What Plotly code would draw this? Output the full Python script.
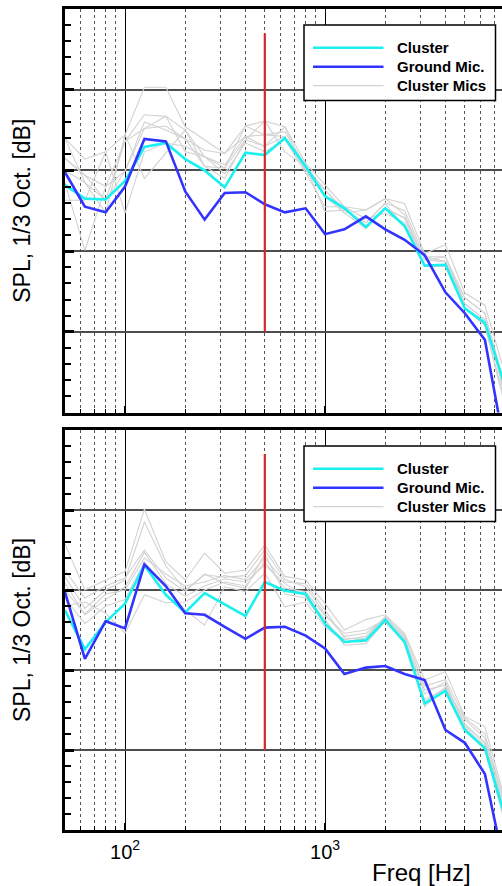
import plotly.graph_objects as go
import math

# ---------------- data ----------------
freqs = [50, 63, 80, 100, 125, 160, 200, 250, 315, 400, 500, 630, 800,
         1000, 1250, 1600, 2000, 2500, 3150, 4000, 5000, 6300, 8000]

# top panel
top_cluster = [28.2, 26.5, 26.4, 28.7, 32.9, 33.4, 31.4, 30.0, 27.9, 32.2, 31.9, 34.0, 30.5,
               26.8, 25.3, 23.0, 25.3, 23.1, 18.2, 18.3, 12.9, 11.1, 3.0]
top_ground = [29.8, 25.5, 24.8, 28.0, 33.9, 33.6, 27.4, 23.9, 27.2, 27.3, 25.8, 24.8, 25.3,
              22.1, 22.7, 24.3, 22.7, 21.4, 19.5, 14.9, 12.3, 9.0, -5.0]
top_mic1 = [34.0, 31.4, 32.3, 34.4, 40.3, 40.3, 35.4, 33.8, 32.1, 35.5, 36.1, 35.4, 30.9,
            28.2, 25.5, 25.1, 26.5, 25.9, 19.7, 20.8, 14.8, 13.3, 4.5]
top_mic2 = [31.5, 29.4, 26.3, 33.6, 36.9, 36.7, 35.0, 31.7, 30.7, 34.2, 34.4, 34.8, 30.5,
            27.6, 25.1, 23.5, 26.0, 25.0, 19.3, 19.3, 14.2, 12.3, 3.0]
top_mic3 = [28.5, 20.1, 28.0, 29.9, 35.2, 35.5, 33.9, 30.5, 30.3, 33.8, 33.0, 34.2, 30.1,
            26.8, 24.7, 22.8, 25.3, 24.1, 18.9, 18.7, 13.5, 11.5, 2.0]
top_mic4 = [26.3, 26.3, 32.3, 24.7, 32.3, 33.4, 33.0, 31.7, 29.6, 33.4, 32.3, 33.8, 29.7,
            25.5, 25.5, 24.0, 24.7, 23.5, 18.1, 18.1, 12.9, 10.8, 0.5]
top_mic5 = [30.0, 28.5, 24.7, 34.4, 29.0, 32.1, 35.0, 30.5, 29.0, 33.8, 36.1, 32.3, 30.5,
            24.9, 25.1, 23.5, 25.9, 23.0, 19.3, 18.7, 14.2, 12.3, 1.5]
top_mic6 = [34.0, 28.5, 26.3, 29.9, 36.0, 35.0, 33.9, 32.5, 32.1, 34.2, 33.0, 35.4, 29.7,
            27.6, 24.7, 25.1, 26.5, 24.5, 18.9, 19.3, 13.5, 11.5, 2.5]
top_mic7 = [31.5, 29.4, 28.0, 33.6, 35.2, 36.7, 32.3, 31.7, 30.3, 35.5, 34.4, 34.2, 30.1,
            26.8, 25.5, 22.8, 25.3, 24.1, 18.1, 18.1, 12.9, 10.8, 1.0]

# bottom panel
bot_cluster = [27.5, 22.6, 26.0, 28.3, 33.1, 29.4, 27.2, 29.6, 28.2, 26.75, 31.0, 29.9, 29.5,
               25.8, 23.5, 23.7, 26.25, 23.5, 15.8, 17.4, 12.5, 10.2, 1.4]
bot_ground = [29.8, 21.4, 26.1, 25.2, 33.2, 30.5, 27.1, 26.9, 25.4, 23.9, 25.3, 25.4, 24.3,
              22.7, 19.5, 20.3, 20.5, 19.5, 18.75, 12.5, 10.9, 7.0, -5.3]
bot_mic1 = [35.8, 30.0, 31.25, 32.3, 40.1, 33.5, 31.25, 34.6, 32.1, 32.5, 35.6, 31.7, 31.25,
            28.3, 25.0, 26.3, 26.9, 24.6, 18.75, 19.8, 14.2, 12.9, 3.5]
bot_mic2 = [31.7, 27.7, 30.0, 31.25, 38.5, 33.0, 30.0, 31.9, 31.6, 31.8, 35.0, 31.3, 30.4,
            27.0, 24.2, 24.6, 26.5, 23.8, 17.5, 18.1, 13.3, 10.8, 1.5]
bot_mic3 = [30.9, 26.9, 28.8, 30.4, 34.7, 30.8, 29.2, 30.5, 31.4, 31.0, 33.1, 30.8, 29.2,
            26.3, 23.1, 23.3, 26.1, 23.3, 16.3, 17.6, 12.5, 10.2, 0.5]
bot_mic4 = [29.0, 25.8, 28.0, 28.8, 33.5, 30.2, 27.5, 25.6, 30.4, 29.8, 32.1, 27.9, 28.5,
            25.4, 23.5, 24.0, 26.7, 24.2, 15.4, 17.9, 13.8, 11.5, 2.5]
bot_mic5 = [28.0, 28.5, 27.1, 24.6, 29.4, 28.4, 28.5, 30.0, 31.0, 30.5, 33.5, 30.2, 29.8,
            26.8, 24.6, 25.0, 26.3, 24.0, 17.0, 18.5, 13.0, 11.0, 2.0]
bot_mic6 = [30.0, 27.0, 29.5, 30.0, 34.0, 32.0, 30.5, 31.0, 31.8, 31.3, 34.0, 31.0, 30.8,
            27.5, 24.0, 23.8, 26.0, 23.5, 16.0, 17.8, 12.8, 10.5, 1.0]
bot_mic7 = [32.5, 29.0, 30.5, 31.5, 35.0, 31.5, 29.8, 32.0, 30.8, 30.2, 34.5, 29.5, 29.0,
            25.8, 23.8, 24.2, 26.6, 24.4, 18.0, 18.8, 14.0, 12.0, 3.0]

top_mics = [top_mic1, top_mic2, top_mic3, top_mic4, top_mic5, top_mic6, top_mic7]
bot_mics = [bot_mic1, bot_mic2, bot_mic3, bot_mic4, bot_mic5, bot_mic6, bot_mic7]

marker_freq = [500, 500]
marker_level = [10, 47]

x_tickvals = [100, 1000]
x_ticktext = ["10<sup>2</sup>", "10<sup>3</sup>"]
x_minor = [60, 70, 80, 90, 200, 300, 400, 500, 600, 700, 800, 900,
           2000, 3000, 4000, 5000, 6000, 7000, 8000, 9000]
legend_names = ["Cluster", "Ground Mic.", "Cluster Mics"]

# ---------------- style ----------------
W, H = 502, 886
ML, MR, MT, MB = 65, 0, 9, 56
CYAN = "#1af0f0"
BLUE = "#3333ff"
GRAY = "#d2d2d2"
RED = "#d22a2a"
FONT = "Arial, Liberation Sans, sans-serif"

def px2x(px):
    return (px - ML) / (W - ML - MR)

def px2y(py):
    return (H - MB - py) / (H - MB - MT)

top_dom = [px2y(412.5), 1.0]
bot_dom = [0.0, px2y(430)]

fig = go.Figure()

panels = [("x", "y", top_mics, top_cluster, top_ground),
          ("x2", "y2", bot_mics, bot_cluster, bot_ground)]
for xa, ya, mics, clus, gnd in panels:
    for m in mics:
        fig.add_trace(go.Scatter(x=freqs, y=m, mode="lines", xaxis=xa, yaxis=ya,
                                 line=dict(color=GRAY, width=1.1), showlegend=False,
                                 name=legend_names[2]))
    fig.add_trace(go.Scatter(x=freqs, y=clus, mode="lines", xaxis=xa, yaxis=ya,
                             line=dict(color=CYAN, width=2.6), showlegend=False,
                             name=legend_names[0]))
    fig.add_trace(go.Scatter(x=freqs, y=gnd, mode="lines", xaxis=xa, yaxis=ya,
                             line=dict(color=BLUE, width=2.6), showlegend=False,
                             name=legend_names[1]))
    fig.add_trace(go.Scatter(x=marker_freq, y=marker_level, mode="lines", xaxis=xa, yaxis=ya,
                             line=dict(color=RED, width=2.2), showlegend=False,
                             hoverinfo="skip"))

xrange = [math.log10(50.1), math.log10(50.1) + (W - ML - MR) / 200.0]

def xaxis_cfg(anchor, labels):
    return dict(type="log", range=xrange, anchor=anchor,
                tickvals=x_tickvals, ticktext=x_ticktext, showticklabels=labels,
                tickfont=dict(family=FONT, size=20, color="black"),
                ticks="inside", ticklen=7, tickwidth=2, tickcolor="black",
                showgrid=True, gridcolor="black", gridwidth=1,
                showline=True, linecolor="black", linewidth=2.5, mirror=True,
                zeroline=False, ticklabelstandoff=2,
                minor=dict(tickmode="array", tickvals=x_minor, ticks="inside", ticklen=4,
                           tickwidth=1, tickcolor="black", showgrid=True,
                           gridcolor="#555555", gridwidth=1, griddash="dot"))

def yaxis_cfg(anchor, dom):
    return dict(range=[0, 50], domain=dom, anchor=anchor, tick0=0, dtick=10,
                showticklabels=False, ticks="inside", ticklen=9, tickwidth=2.5,
                tickcolor="black", showgrid=True, gridcolor="#4d4d4d", gridwidth=1.6,
                showline=True, linecolor="black", linewidth=3, mirror=False,
                zeroline=False,
                title=dict(text="SPL, 1/3 Oct. [dB]", standoff=25,
                           font=dict(family=FONT, size=23, color="black")),
                minor=dict(dtick=2, ticks="inside", ticklen=6, tickwidth=1.5,
                           tickcolor="black", showgrid=False))

fig.update_layout(
    width=W, height=H,
    margin=dict(l=ML, r=MR, t=MT, b=MB),
    paper_bgcolor="white", plot_bgcolor="white",
    font=dict(family=FONT, color="black"),
    showlegend=False,
    xaxis=xaxis_cfg("y", False),
    yaxis=yaxis_cfg("x", top_dom),
    xaxis2=xaxis_cfg("y2", True),
    yaxis2=yaxis_cfg("x2", bot_dom),
)

# manual legends (one per panel)
shapes = []
annos = []
legend_styles = [(CYAN, 2.6), (BLUE, 2.6), (GRAY, 1.2)]
for T in (9, 430):
    shapes.append(dict(type="rect", xref="paper", yref="paper",
                       x0=px2x(304), x1=px2x(495.5), y0=px2y(T + 91.5), y1=px2y(T + 16),
                       fillcolor="white", line=dict(color="black", width=1.5), layer="above"))
    for i, (name, (col, lw)) in enumerate(zip(legend_names, legend_styles)):
        yy = T + 38.7 + 19 * i
        shapes.append(dict(type="line", xref="paper", yref="paper",
                           x0=px2x(313), x1=px2x(383.5), y0=px2y(yy), y1=px2y(yy),
                           line=dict(color=col, width=lw), layer="above"))
        annos.append(dict(xref="paper", yref="paper", x=px2x(395), y=px2y(yy),
                          text="<b>" + name + "</b>", showarrow=False,
                          xanchor="left", yanchor="middle",
                          font=dict(family=FONT, size=15, color="black")))

annos.append(dict(xref="paper", yref="paper", x=px2x(421), y=px2y(872),
                  text="Freq [Hz]", showarrow=False, xanchor="center", yanchor="middle",
                  font=dict(family=FONT, size=24, color="black")))

fig.update_layout(shapes=shapes, annotations=annos)

fig.write_html("out.html")
